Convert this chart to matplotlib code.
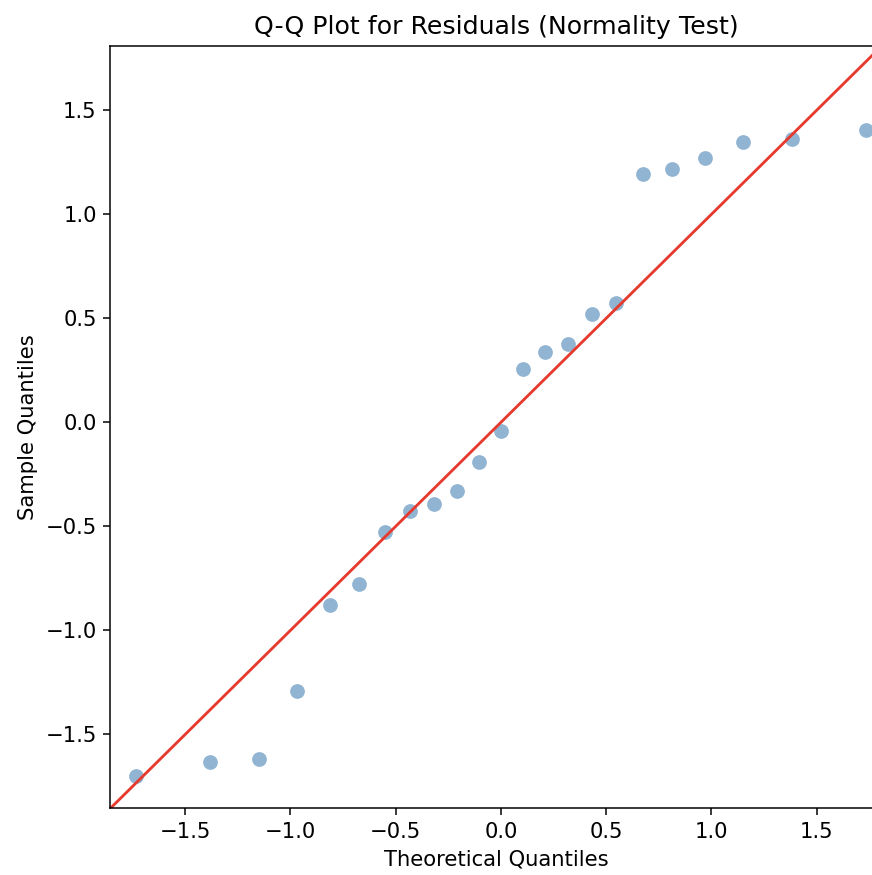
import matplotlib
matplotlib.use("Agg")
import matplotlib.pyplot as plt
import numpy as np

# theoretical normal quantiles (n = 23) and the residual sample quantiles
theoretical = [-1.7317, -1.3830, -1.1503, -0.9674, -0.8122, -0.6745, -0.5485,
               -0.4307, -0.3186, -0.2104, -0.1046, 0.0, 0.1046, 0.2104,
               0.3186, 0.4307, 0.5485, 0.6745, 0.8122, 0.9674, 1.1503,
               1.3830, 1.7317]
sample = [-1.700, -1.633, -1.619, -1.290, -0.878, -0.775, -0.529, -0.424,
          -0.391, -0.330, -0.190, -0.044, 0.257, 0.338, 0.376, 0.520,
          0.574, 1.194, 1.218, 1.271, 1.348, 1.362, 1.405]

lo, hi = -1.857, 1.81

plt.rcParams['xtick.labelsize'] = 11.2
plt.rcParams['ytick.labelsize'] = 11.2

fig = plt.figure(figsize=(872 / 136, 875 / 136), dpi=136)
ax = fig.add_axes([110 / 872, (875 - 808.3) / 875, 772 / 872, 762.6 / 875])

ax.plot(theoretical, sample, 'o', color='steelblue', alpha=0.6,
        markersize=7.8, markeredgewidth=0)
ax.plot([lo, hi], [lo, hi], color='#e63a2e', linewidth=1.5)

ax.set_xlim(lo, hi)
ax.set_ylim(-1.855, hi)
ax.set_xticks([-1.5, -1.0, -0.5, 0.0, 0.5, 1.0, 1.5])
ax.set_yticks([-1.5, -1.0, -0.5, 0.0, 0.5, 1.0, 1.5])

ax.set_title("Q-Q Plot for Residuals (Normality Test)", fontsize=13.4)
ax.set_xlabel("Theoretical Quantiles", fontsize=11.2)
ax.set_ylabel("Sample Quantiles", fontsize=11.2)

fig.savefig("out.png", dpi=136)
